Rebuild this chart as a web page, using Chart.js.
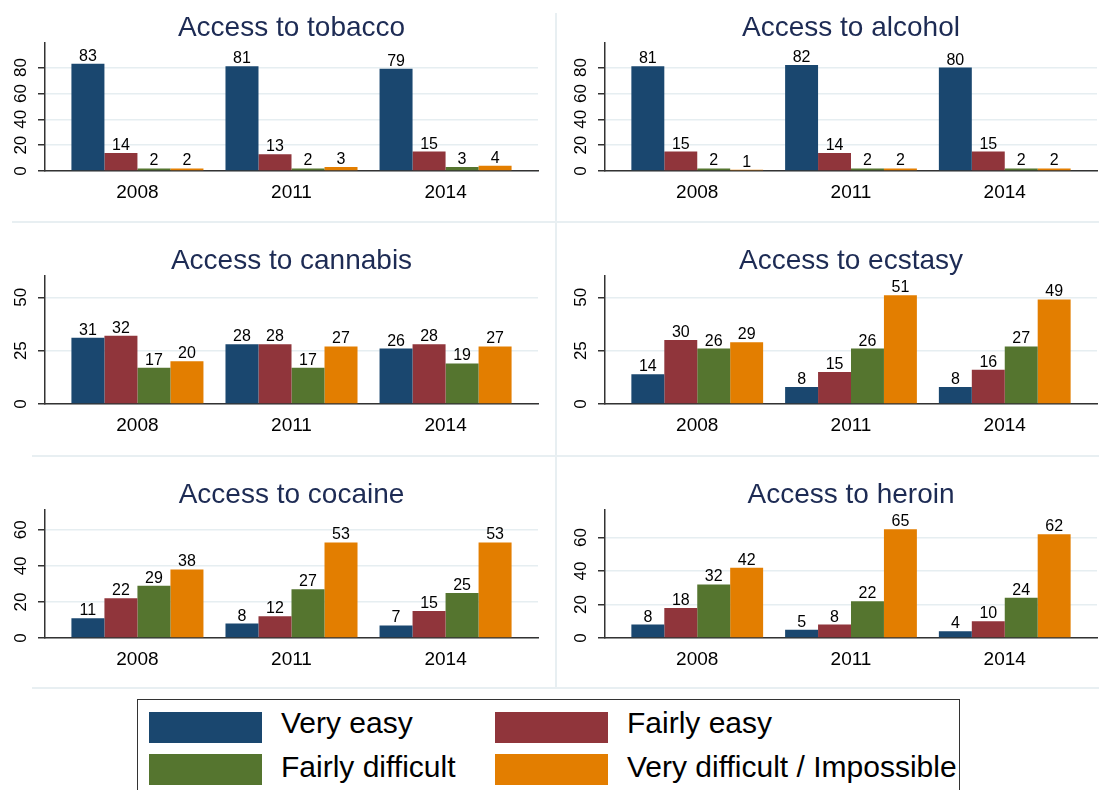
<!DOCTYPE html>
<html>
<head>
<meta charset="utf-8">
<title>Access to substances</title>
<script src="https://cdn.jsdelivr.net/npm/chart.js@4.4.1/dist/chart.umd.min.js"></script>
<style>
  body { margin: 0; width: 1099px; height: 790px; overflow: hidden; position: relative; background: #fff;
         font-family: "Liberation Sans", Arial, sans-serif; }
  .panel { position: absolute; }
  .sep { position: absolute; background: #e8eff2; }
  #legend { position: absolute; left: 137px; top: 699px; width: 823px; height: 100px;
            border: 1.5px solid #333; box-sizing: border-box; background: #fff; }
  .sw { position: absolute; width: 113px; height: 31px; }
  .lt { position: absolute; font-size: 30px; line-height: 30px; color: #000; white-space: nowrap; }
</style>
</head>
<body>
<div class="sep" style="left:12px; top:221px; width:1087px; height:2px"></div>
<div class="sep" style="left:32px; top:455px; width:1067px; height:2px"></div>
<div class="sep" style="left:32px; top:687px; width:1067px; height:2px"></div>
<div class="sep" style="left:555px; top:13px; width:2px; height:676px"></div>

<canvas class="panel" id="c0" width="540" height="222" style="left:0px; top:0px"></canvas>
<canvas class="panel" id="c1" width="539" height="222" style="left:560px; top:0px"></canvas>
<canvas class="panel" id="c2" width="540" height="222" style="left:0px; top:233px"></canvas>
<canvas class="panel" id="c3" width="539" height="222" style="left:560px; top:233px"></canvas>
<canvas class="panel" id="c4" width="540" height="222" style="left:0px; top:467px"></canvas>
<canvas class="panel" id="c5" width="539" height="222" style="left:560px; top:467px"></canvas>

<div id="legend"></div>
<div id="legend-items"></div>

<script>
const years = [2008, 2011, 2014];
const seriesNames = ['Very easy', 'Fairly easy', 'Fairly difficult', 'Very difficult / Impossible'];
const seriesColors = ['#1a476f', '#90353b', '#55752f', '#e37e00'];

const panelTitles = ['Access to tobacco', 'Access to alcohol', 'Access to cannabis',
                     'Access to ecstasy', 'Access to cocaine', 'Access to heroin'];

// one row per series: Very easy, Fairly easy, Fairly difficult, Very difficult / Impossible
const tobacco  = [[83, 81, 79], [14, 13, 15], [2, 2, 3], [2, 3, 4]];
const alcohol  = [[81, 82, 80], [15, 14, 15], [2, 2, 2], [1, 2, 2]];
const cannabis = [[31, 28, 26], [32, 28, 28], [17, 17, 19], [20, 27, 27]];
const ecstasy  = [[14, 8, 8], [30, 15, 16], [26, 26, 27], [29, 51, 49]];
const cocaine  = [[11, 8, 7], [22, 12, 15], [29, 27, 25], [38, 53, 53]];
const heroin   = [[8, 5, 4], [18, 8, 10], [32, 22, 24], [42, 65, 62]];
const panelData = [tobacco, alcohol, cannabis, ecstasy, cocaine, heroin];

// y axis range and tick step for each panel
const yMax  = [99, 99, 60, 60, 71, 76.5];
const yStep = [20, 20, 25, 25, 20, 20];

const FONT = '"Liberation Sans", Arial, sans-serif';

const panelTitle = {
  id: 'panelTitle',
  afterDraw(chart, args, opts) {
    const { ctx, chartArea } = chart;
    ctx.save();
    ctx.font = '28px ' + FONT;
    ctx.fillStyle = '#1d2b54';
    ctx.textAlign = 'center';
    ctx.textBaseline = 'alphabetic';
    ctx.fillText(opts.text, (chartArea.left + chartArea.right) / 2, 35.5);
    ctx.restore();
  }
};

const barValues = {
  id: 'barValues',
  afterDatasetsDraw(chart) {
    const { ctx } = chart;
    ctx.save();
    ctx.font = '16px ' + FONT;
    ctx.fillStyle = '#000';
    ctx.textAlign = 'center';
    ctx.textBaseline = 'alphabetic';
    chart.data.datasets.forEach((ds, i) => {
      chart.getDatasetMeta(i).data.forEach((bar, j) => {
        ctx.fillText(String(ds.data[j].y), bar.x, bar.y - 3);
      });
    });
    ctx.restore();
  }
};

function makeChart(idx) {
  const step = years[1] - years[0];
  const values = panelData[idx];
  const max = yMax[idx];
  const ystep = yStep[idx];

  new Chart(document.getElementById('c' + idx), {
    type: 'bar',
    data: {
      datasets: values.map((v, i) => ({
        label: seriesNames[i],
        data: years.map((yr, j) => ({ x: yr, y: v[j] })),
        backgroundColor: seriesColors[i],
        borderWidth: 0,
        categoryPercentage: 0.857,
        barPercentage: 1.0
      }))
    },
    options: {
      responsive: false,
      animation: false,
      devicePixelRatio: 1,
      layout: { padding: { top: 43, left: 0, right: 2, bottom: 0 } },
      plugins: {
        legend: { display: false },
        tooltip: { enabled: false },
        panelTitle: { text: panelTitles[idx] }
      },
      scales: {
        x: {
          type: 'linear',
          min: years[0] - 0.6 * step,
          max: years[years.length - 1] + 0.6 * step,
          offset: false,
          afterBuildTicks: s => { s.ticks = years.map(v => ({ value: v })); },
          afterFit: s => { s.height = 51; },
          ticks: {
            callback: v => String(v),
            autoSkip: false, maxRotation: 0,
            font: { size: 19, family: FONT }, color: '#000', padding: 10
          },
          grid: { display: false, offset: false, drawTicks: false },
          border: { display: true, color: '#333', width: 1.5 }
        },
        y: {
          min: 0,
          max: max,
          afterBuildTicks: s => {
            const t = [];
            for (let v = 0; v <= max; v += ystep) t.push({ value: v });
            s.ticks = t;
          },
          afterFit: s => { s.width = 45; },
          ticks: {
            minRotation: 90, maxRotation: 90, crossAlign: 'center',
            font: { size: 17, family: FONT }, color: '#000', padding: 7
          },
          grid: { color: '#e6eef1', lineWidth: 1.5, tickColor: '#333', tickLength: 7 },
          border: { display: true, color: '#333', width: 1.5 }
        }
      }
    },
    plugins: [panelTitle, barValues]
  });
}

for (let i = 0; i < panelTitles.length; i++) makeChart(i);

// legend (two rows, two columns)
const legendPos = [
  { sx: 149, sy: 712, tx: 281, ty: 708 },
  { sx: 495, sy: 712, tx: 627, ty: 708 },
  { sx: 149, sy: 754, tx: 281, ty: 752 },
  { sx: 495, sy: 754, tx: 627, ty: 752 }
];
const items = document.getElementById('legend-items');
seriesNames.forEach((name, i) => {
  const p = legendPos[i];
  const sw = document.createElement('div');
  sw.className = 'sw';
  sw.style.left = p.sx + 'px';
  sw.style.top = p.sy + 'px';
  sw.style.background = seriesColors[i];
  const tx = document.createElement('div');
  tx.className = 'lt';
  tx.style.left = p.tx + 'px';
  tx.style.top = p.ty + 'px';
  tx.textContent = name;
  items.append(sw, tx);
});
</script>
</body>
</html>
